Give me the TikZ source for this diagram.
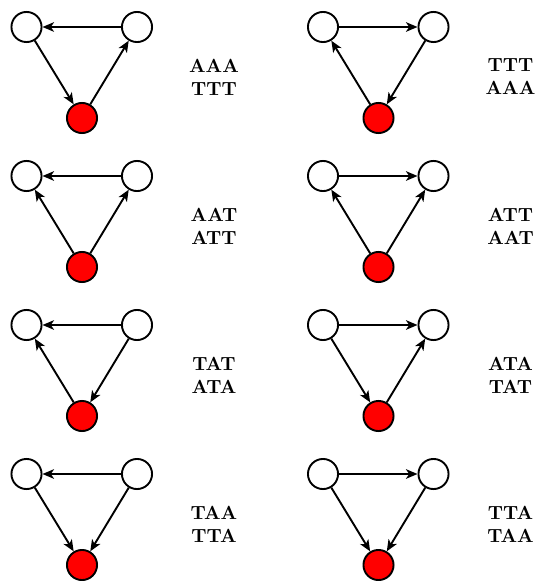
\documentclass[tikz,border=0pt]{standalone}
\usetikzlibrary{arrows.meta}
\begin{document}
\begin{tikzpicture}[x=0.525pt,y=-0.525pt,
  vtx/.style={circle,draw,line width=1pt,minimum size=15.8pt,inner sep=0pt,fill=white},
  root/.style={vtx,fill=red},
  arc/.style={-{Stealth[length=6pt,width=5pt,inset=1.6pt]},line width=1pt},
  seq/.style={font=\bfseries,align=center,inner sep=0pt}]
\useasboundingbox (0,0) rectangle (540,581);

% vertices and sequence labels of the eight triangles
\foreach \n/\x/\y/\s in {
    a/0/0/{AAA\\TTT},       b/296.5/0/{TTT\\AAA},
    c/0/149/{AAT\\ATT},     d/296.5/149/{ATT\\AAT},
    e/0/298/{TAT\\ATA},     f/296.5/298/{ATA\\TAT},
    g/0/447/{TAA\\TTA},     h/296.5/447/{TTA\\TAA}}{
  \node[vtx]  (\n-l) at (\x+26.5,\y+27) {};
  \node[vtx]  (\n-r) at (\x+137,\y+27) {};
  \node[root] (\n-b) at (\x+82,\y+118) {};
  \node[seq]  (\n-s) at (\x+214,\y+77) {\s};
}

% arcs
\draw[arc] (a-r) -- (a-l);
\draw[arc] (a-l) -- (a-b);
\draw[arc] (a-b) -- (a-r);

\draw[arc] (b-l) -- (b-r);
\draw[arc] (b-r) -- (b-b);
\draw[arc] (b-b) -- (b-l);

\draw[arc] (c-r) -- (c-l);
\draw[arc] (c-b) -- (c-l);
\draw[arc] (c-b) -- (c-r);

\draw[arc] (d-l) -- (d-r);
\draw[arc] (d-b) -- (d-l);
\draw[arc] (d-b) -- (d-r);

\draw[arc] (e-r) -- (e-l);
\draw[arc] (e-b) -- (e-l);
\draw[arc] (e-r) -- (e-b);

\draw[arc] (f-l) -- (f-r);
\draw[arc] (f-l) -- (f-b);
\draw[arc] (f-b) -- (f-r);

\draw[arc] (g-r) -- (g-l);
\draw[arc] (g-l) -- (g-b);
\draw[arc] (g-r) -- (g-b);

\draw[arc] (h-l) -- (h-r);
\draw[arc] (h-l) -- (h-b);
\draw[arc] (h-r) -- (h-b);
\end{tikzpicture}
\end{document}
